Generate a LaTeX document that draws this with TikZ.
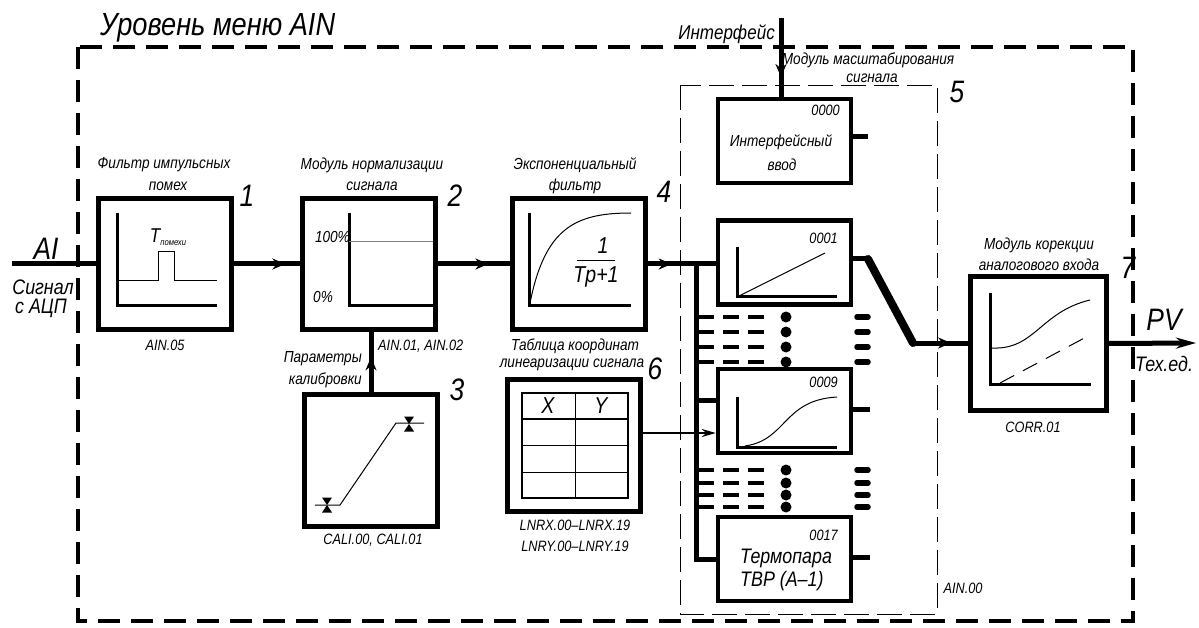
\documentclass[tikz,border=0pt]{standalone}
\usepackage{fontspec}
\setmainfont{Liberation Sans}[FakeStretch=0.85]
\usetikzlibrary{arrows.meta,decorations.markings}

\begin{document}
\begin{tikzpicture}[x=1pt,y=-1pt,
    blk/.style={draw,line width=5pt,minimum width=133pt,minimum height=130pt,inner sep=0pt},
    chan/.style={draw,line width=4.5pt,minimum width=133pt,minimum height=84pt,inner sep=0pt},
    conn/.style={line width=5pt},
    axis/.style={line width=3pt},
    thinl/.style={line width=1pt},
    midarrow/.style={postaction={decorate},decoration={markings,
        mark=at position #1 with {\arrow{Stealth[length=13pt,width=11pt]}}}},
    lbl/.style={font=\fontsize{16}{17}\selectfont\itshape,inner sep=0pt},
    sml/.style={font=\fontsize{15}{16}\selectfont\itshape,inner sep=0pt},
    mid/.style={font=\fontsize{21}{22}\selectfont\itshape,inner sep=0pt},
    big/.style={font=\fontsize{31}{31}\selectfont\itshape,inner sep=0pt},
    num/.style={font=\fontsize{31}{31}\selectfont\itshape,inner sep=0pt},
    tbl/.style={font=\fontsize{23}{23}\selectfont\itshape,inner sep=0pt},
    hglass/.pic={\fill (-5,-7.5) -- (5,-7.5) -- (0,0) -- cycle
                       (-5,7.5) -- (5,7.5) -- (0,0) -- cycle;}]
\useasboundingbox (0,0) rectangle (1199,628);

% frames
\draw[line width=4pt,dash pattern=on 22pt off 11pt] (78,47) rectangle (1133,621);
\node[font=\fontsize{32}{32}\selectfont\itshape,inner sep=0pt,anchor=base west] (title) at (100,36) {Уровень меню AIN};
\draw[line width=0.9pt,dash pattern=on 25pt off 8pt] (680,85) rectangle (937,614);

% blocks
\node[blk] (flt) at (164.5,264) {};
\node[blk] (norm) at (369,264) {};
\node[blk] (expf) at (579,264) {};
\node[blk,minimum height=132pt] (cal) at (371,460) {};
\node[blk,minimum height=132pt] (lin) at (574,445) {};
\node[chan] (ch0) at (784.5,141) {};
\node[chan] (ch1) at (784.5,262.5) {};
\node[chan] (ch9) at (784.5,411) {};
\node[chan] (ch17) at (784.5,559) {};
\node[blk,minimum width=136pt,minimum height=133pt] (corr) at (1038,343.5) {};

% block labels
\node[lbl] (fltA) at (164,165) {Фильтр импульсных};
\node[lbl] (fltB) at (168,186) {помех};
\node[num] (n1) at (247,196) {1};
\node[sml] (ain05) at (165,345) {AIN.05};
\node[lbl] (normA) at (372,165) {Модуль нормализации};
\node[lbl] (normB) at (372,186) {сигнала};
\node[num] (n2) at (455,196) {2};
\node[lbl] (expA) at (575,165) {Экспоненциальный};
\node[lbl] (expB) at (575,186) {фильтр};
\node[num] (n4) at (664,192) {4};
\node[sml,anchor=west] (ain12) at (378,346) {AIN.01, AIN.02};
\node[lbl,anchor=east] (parA) at (362,359) {Параметры};
\node[lbl,anchor=east] (parB) at (362,380) {калибровки};
\node[num] (n3) at (457,390) {3};
\node[sml] (cali) at (373,540) {CALI.00, CALI.01};
\node[lbl] (linA) at (575,346) {Таблица координат};
\node[lbl] (linB) at (572,365) {линеаризации сигнала};
\node[num] (n6) at (655,369) {6};
\node[sml] (lnrx) at (575,525) {LNRX.00–LNRX.19};
\node[sml] (lnry) at (575,546) {LNRY.00–LNRY.19};
\node[lbl] (scA) at (868,60) {Модуль масштабирования};
\node[lbl] (scB) at (872,78) {сигнала};
\node[num] (n5) at (957,92) {5};
\node[sml] (ain00) at (963,588) {AIN.00};
\node[lbl] (corrA) at (1039,245) {Модуль корекции};
\node[lbl] (corrB) at (1039,265) {аналогового входа};
\node[num] (n7) at (1128,268) {7};
\node[sml] (corrC) at (1033,427) {CORR.01};

% input / output
\coordinate (ai) at (12,264);
\draw[conn] (ai) -- (flt.west);
\node[big] (aiL) at (46,249) {AI};
\node[mid] (aiS1) at (43,287) {Сигнал};
\node[mid] (aiS2) at (41,308) {с АЦП};
\coordinate (pv) at (1196,343);
\draw[conn,-{Stealth[length=20pt,width=11pt]}] (corr.east) -- (pv);
\node[big] (pvL) at (1164,320) {PV};
\node[mid] (pvS) at (1164,364) {Тех.ед.};

% chain
\draw[conn,midarrow=0.78] (flt.east) -- (norm.west);
\draw[conn,midarrow=0.7] (norm.east) -- (expf.west);
\draw[conn,midarrow=0.35] (expf.east) -- (ch1.west |- expf.east);
\draw[conn,midarrow=0.57] (cal.north) -- (cal.north |- norm.south);

% bus to the channels
\coordinate (bus) at (696,264);
\coordinate (j9) at (696,400);
\draw[conn] (bus) |- (ch17.west);
\draw[conn] (j9) -- (j9 -| ch9.west);
\draw[line width=2pt,-{Stealth[length=14pt,width=8pt]}] ([yshift=12pt]lin.east) -- ([yshift=12pt]lin.east -| ch9.west);
\foreach \y in {317,332,347,362,470,483,495,507} {
  \draw[line width=3.5pt,dash pattern=on 16pt off 9pt] (698,\y) -- (768,\y);
  \fill (786,\y) circle (5.5pt);
  \draw[line width=5.5pt,line cap=round] (857,\y) -- (868,\y);
}

% interface input
\coordinate (ifc) at (781,18);
\draw[conn,midarrow=0.75] (ifc) -- (ifc |- ch0.north);
\node[font=\fontsize{20}{20}\selectfont\itshape,inner sep=0pt,anchor=base east] (ifcL) at (775,40) {Интерфейс};

% channel outputs
\draw[conn] ([yshift=4pt]ch0.east) -- ++(15,0);
\draw[conn] ([yshift=2pt]ch9.east) -- ++(17,0);
\draw[conn] ([yshift=2pt]ch17.east) -- ++(17,0);
\coordinate (k1) at (868,259);
\coordinate (k2) at (913,343);
\draw[conn] (k1 -| ch1.east) -- (k1);
\draw[line width=8pt,line cap=round] (k1) -- (k2);
\draw[conn,midarrow=0.7] (k2) -- (k2 -| corr.west);

% inside 1
\draw[axis] (117,213) |- (217,305);
\draw[thinl] (117,281) -- (158,281) -- (158,252) -- (174,252) -- (174,281) -- (217,281);
\node[inner sep=0pt] (tpom) at (168,237) {\fontsize{20}{20}\selectfont\itshape T\raisebox{-3pt}{\fontsize{9}{9}\selectfont помехи}};

% inside 2
\draw[axis] (349,213) |- (433,305);
\draw[thinl,gray] (349,242) -- (433,242);
\node[lbl,anchor=east] (p100) at (350,237) {100\%};
\node[lbl,anchor=west] (p0) at (313,297) {0\%};

% inside 4
\draw[axis] (529,213) |- (631,305);
\draw[thinl] (530,303) .. controls (545,228) and (575,213) .. (631,213);
\node[tbl] (fnum) at (603,246) {1};
\draw[thinl] (577,261) -- (615,261);
\node[tbl] (fden) at (596,277) {Tp+1};

% inside 3
\draw[thinl] (315,505) -- (340,505) -- (396,423) -- (424,423);
\pic at (327,505) {hglass};
\pic at (409,424) {hglass};

% inside 6
\draw[line width=2pt] (522,393) rectangle (628,498);
\draw[line width=2.5pt] (522,419) -- (628,419);
\draw[thinl] (522,445) -- (628,445) (522,472) -- (628,472) (575,393) -- (575,498);
\node[tbl] (tx) at (548,406) {X};
\node[tbl] (ty) at (601,406) {Y};

% channels
\node[sml,anchor=east] (c0n) at (840,110) {0000};
\node[lbl] (c0a) at (781,142) {Интерфейсный};
\node[lbl] (c0b) at (782,165) {ввод};
\node[sml,anchor=east] (c1n) at (838,238) {0001};
\draw[axis] (737,247) |- (837,297);
\draw[thinl] (737,297) -- (825,253);
\node[sml,anchor=east] (c9n) at (838,382) {0009};
\draw[axis] (737,397) |- (837,447);
\draw[thinl] (745,446) .. controls (787,440) and (783,400) .. (837,397);
\node[sml,anchor=east] (c17n) at (838,535) {0017};
\node[font=\fontsize{21}{21}\selectfont\itshape,inner sep=0pt,anchor=west] (c17a) at (740,558) {Термопара};
\node[font=\fontsize{21}{21}\selectfont\itshape,inner sep=0pt,anchor=west] (c17b) at (740,581) {ТВР (А–1)};

% inside 7
\draw[axis] (990,293) |- (1091,384);
\draw[thinl] (992,348) .. controls (1035,350) and (1040,312) .. (1090,300);
\draw[thinl,dash pattern=on 16pt off 10pt] (1000,383) -- (1090,335);
\end{tikzpicture}
\end{document}
